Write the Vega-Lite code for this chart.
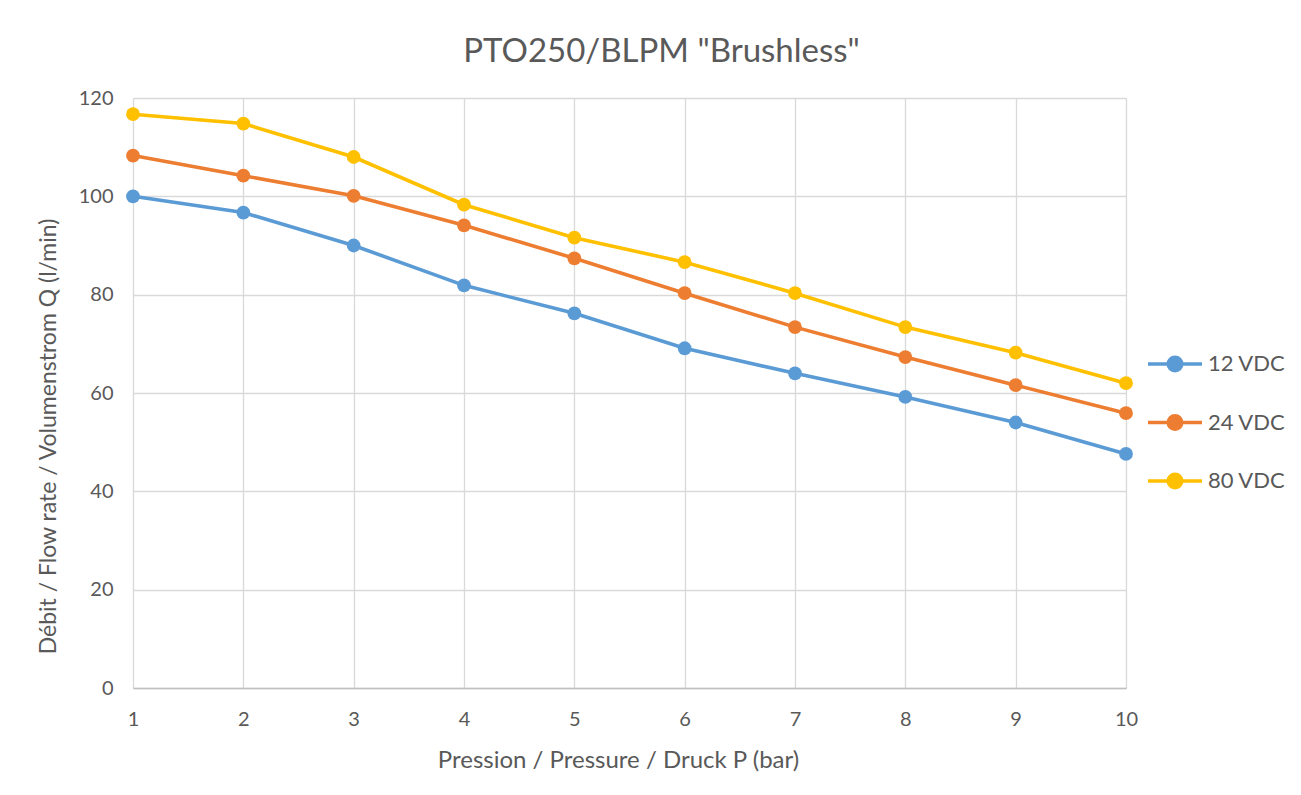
{
  "$schema": "https://vega.github.io/schema/vega-lite/v6.json",
  "autosize": "none",
  "width": 993,
  "height": 590,
  "padding": {"left": 133, "top": 98, "right": 175, "bottom": 107},
  "background": "white",
  "title": {
    "text": "PTO250/BLPM \"Brushless\"",
    "font": "Lato",
    "fontSize": 33,
    "fontWeight": "normal",
    "color": "#595959",
    "anchor": "middle",
    "dx": 32,
    "offset": 19
  },
  "data": {
    "values": [
      {"p": 1, "q": 100.0, "s": "12 VDC"},
      {"p": 2, "q": 96.7, "s": "12 VDC"},
      {"p": 3, "q": 90.0, "s": "12 VDC"},
      {"p": 4, "q": 81.9, "s": "12 VDC"},
      {"p": 5, "q": 76.2, "s": "12 VDC"},
      {"p": 6, "q": 69.1, "s": "12 VDC"},
      {"p": 7, "q": 64.0, "s": "12 VDC"},
      {"p": 8, "q": 59.2, "s": "12 VDC"},
      {"p": 9, "q": 54.0, "s": "12 VDC"},
      {"p": 10, "q": 47.6, "s": "12 VDC"},
      {"p": 1, "q": 108.3, "s": "24 VDC"},
      {"p": 2, "q": 104.2, "s": "24 VDC"},
      {"p": 3, "q": 100.1, "s": "24 VDC"},
      {"p": 4, "q": 94.1, "s": "24 VDC"},
      {"p": 5, "q": 87.4, "s": "24 VDC"},
      {"p": 6, "q": 80.3, "s": "24 VDC"},
      {"p": 7, "q": 73.4, "s": "24 VDC"},
      {"p": 8, "q": 67.3, "s": "24 VDC"},
      {"p": 9, "q": 61.6, "s": "24 VDC"},
      {"p": 10, "q": 55.9, "s": "24 VDC"},
      {"p": 1, "q": 116.7, "s": "80 VDC"},
      {"p": 2, "q": 114.8, "s": "80 VDC"},
      {"p": 3, "q": 108.0, "s": "80 VDC"},
      {"p": 4, "q": 98.3, "s": "80 VDC"},
      {"p": 5, "q": 91.6, "s": "80 VDC"},
      {"p": 6, "q": 86.6, "s": "80 VDC"},
      {"p": 7, "q": 80.3, "s": "80 VDC"},
      {"p": 8, "q": 73.4, "s": "80 VDC"},
      {"p": 9, "q": 68.2, "s": "80 VDC"},
      {"p": 10, "q": 62.0, "s": "80 VDC"}
    ]
  },
  "encoding": {
    "x": {
      "field": "p",
      "type": "quantitative",
      "scale": {"domain": [1, 10], "nice": false, "zero": false},
      "axis": {
        "title": "Pression / Pressure / Druck P (bar)",
        "values": [1, 2, 3, 4, 5, 6, 7, 8, 9, 10],
        "grid": true,
        "gridColor": "#D9D9D9",
        "gridWidth": 1.3,
        "domain": true,
        "domainColor": "#BFBFBF",
        "domainWidth": 1.5,
        "ticks": false,
        "labelPadding": 21,
        "labelFont": "Lato",
        "labelFontSize": 20,
        "labelColor": "#595959",
        "titleFont": "Lato",
        "titleFontSize": 24,
        "titleFontWeight": "normal",
        "titleColor": "#595959",
        "titlePadding": 19,
        "titleX": 485,
        "labelFlush": false
      }
    },
    "y": {
      "field": "q",
      "type": "quantitative",
      "scale": {"domain": [0, 120], "nice": false},
      "axis": {
        "title": "Débit / Flow rate / Volumenstrom Q (l/min)",
        "values": [0, 20, 40, 60, 80, 100, 120],
        "grid": true,
        "gridColor": "#D9D9D9",
        "gridWidth": 1.3,
        "domain": false,
        "ticks": false,
        "labelPadding": 20,
        "labelFont": "Lato",
        "labelFontSize": 20,
        "labelColor": "#595959",
        "titleFont": "Lato",
        "titleFontSize": 23,
        "titleFontWeight": "normal",
        "titleColor": "#595959",
        "titlePadding": 18,
        "titleY": 338
      }
    },
    "color": {
      "field": "s",
      "type": "nominal",
      "scale": {"domain": ["12 VDC", "24 VDC", "80 VDC"], "range": ["#5B9BD5", "#ED7D31", "#FFC000"]},
      "legend": {
        "title": null,
        "orient": "none",
        "legendX": 1013,
        "legendY": 237,
        "symbolType": "M-1,0L1,0M-0.25,0A0.25,0.25,0,1,1,0.25,0A0.25,0.25,0,1,1,-0.25,0Z",
        "symbolSize": 2916,
        "symbolStrokeWidth": 3.5,
        "labelFont": "Lato",
        "labelFontSize": 22,
        "labelColor": "#595959",
        "labelOffset": 4,
        "rowPadding": 15.5,
        "encode": {
          "symbols": {
            "update": {
              "fill": {"scale": "color", "field": "value"},
              "stroke": {"scale": "color", "field": "value"},
              "fillOpacity": {"value": 1},
              "strokeOpacity": {"value": 1}
            }
          }
        }
      }
    }
  },
  "layer": [
    {"mark": {"type": "line", "strokeWidth": 3.6}},
    {"mark": {"type": "point", "filled": true, "size": 190, "opacity": 1, "shape": "circle"}}
  ],
  "config": {"view": {"stroke": null}}
}
